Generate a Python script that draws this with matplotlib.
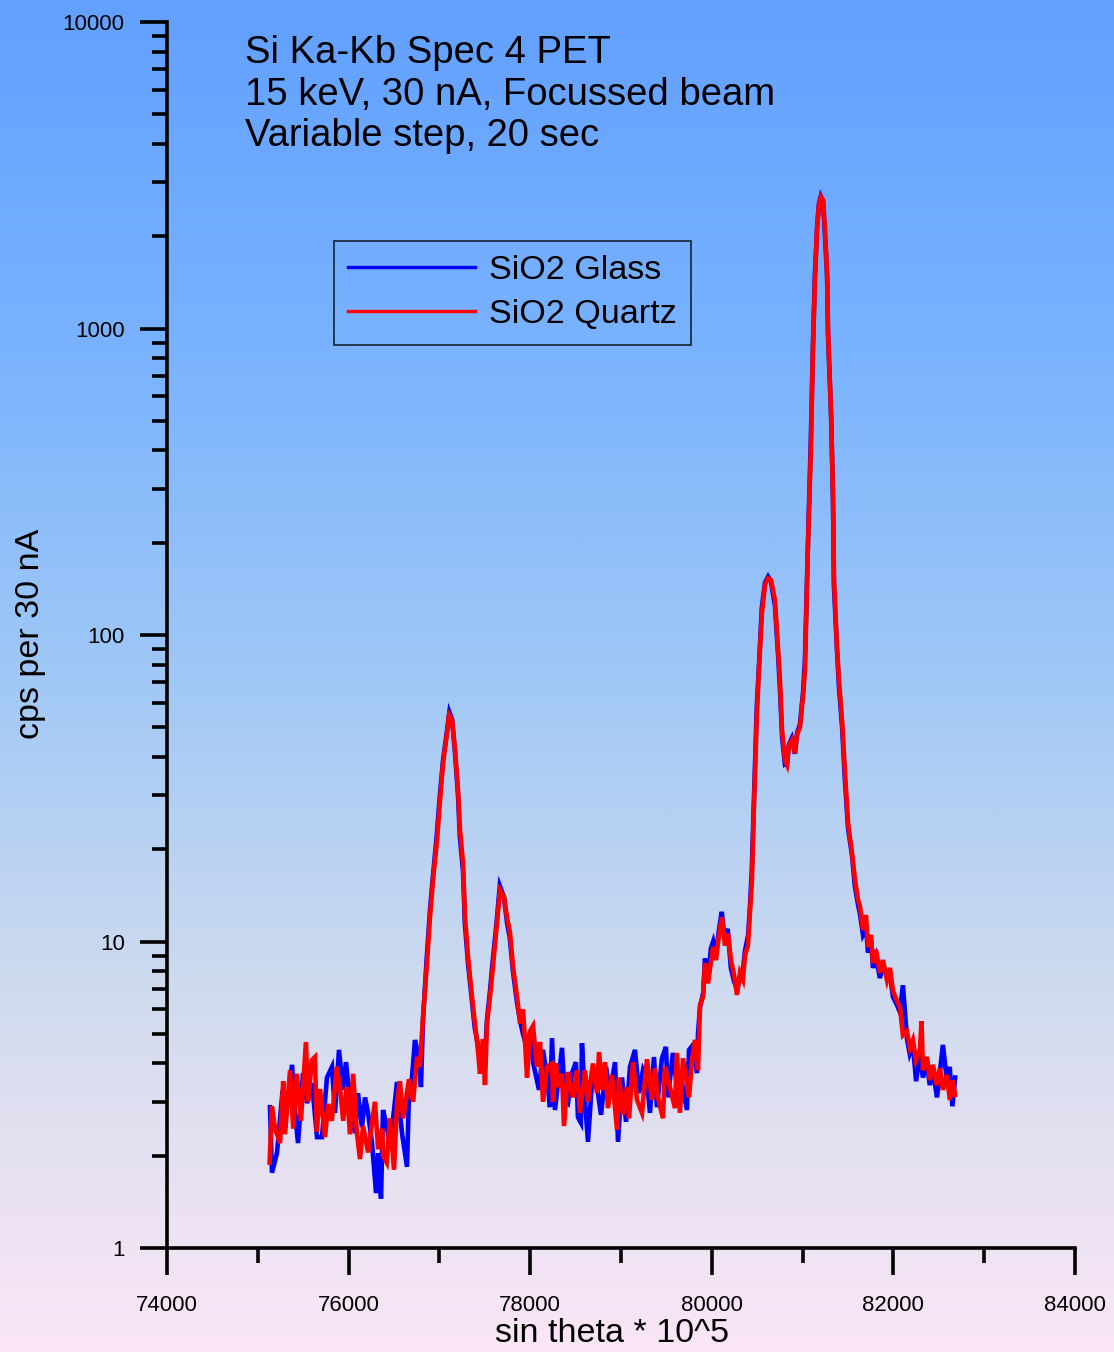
import numpy as np
import matplotlib
matplotlib.use("Agg")
import matplotlib.pyplot as plt
from matplotlib.colors import LinearSegmentedColormap
from matplotlib.ticker import LogLocator, FixedLocator, NullFormatter, FixedFormatter

plt.rcParams['font.family'] = ['Liberation Sans', 'DejaVu Sans']

# ---- spectrum data: sin(theta)*1e5 positions and count rates (cps per 30 nA) ----
glass_x = [
    75134, 75156, 75211, 75266, 75322, 75377, 75410, 75443, 75498, 75542,
    75597, 75652, 75707, 75762, 75817, 75850, 75894, 75938, 75971, 76015,
    76070, 76103, 76147, 76181, 76214, 76258, 76302, 76324, 76357, 76379,
    76423, 76456, 76533, 76588, 76643, 76665, 76698, 76731, 76764, 76797,
    76819, 76860, 76895, 76930, 76970, 77005, 77040, 77085, 77110, 77140,
    77170, 77205, 77225, 77260, 77280, 77315, 77360, 77390, 77425, 77450,
    77480, 77500, 77525, 77555, 77590, 77635, 77665, 77710, 77745, 77775,
    77810, 77855, 77890, 77920, 77945, 77965, 77998, 78031, 78097, 78141,
    78185, 78218, 78240, 78273, 78350, 78383, 78416, 78460, 78504, 78526,
    78559, 78570, 78603, 78636, 78680, 78736, 78780, 78835, 78879, 78934,
    78967, 79011, 79055, 79099, 79154, 79198, 79242, 79286, 79319, 79363,
    79396, 79451, 79495, 79517, 79572, 79616, 79671, 79726, 79749, 79793,
    79837, 79848, 79870, 79905, 79925, 79960, 79990, 80015, 80045, 80080,
    80110, 80140, 80175, 80210, 80245, 80280, 80310, 80345, 80365, 80400,
    80420, 80440, 80465, 80495, 80520, 80550, 80585, 80620, 80650, 80695,
    80730, 80750, 80775, 80805, 80830, 80850, 80880, 80915, 80940, 80970,
    81005, 81025, 81060, 81090, 81115, 81135, 81160, 81180, 81200, 81225,
    81245, 81270, 81280, 81315, 81335, 81345, 81380, 81400, 81435, 81465,
    81500, 81545, 81575, 81610, 81630, 81665, 81700, 81720, 81755, 81775,
    81810, 81850, 81885, 81930, 81960, 81995, 82040, 82070, 82105, 82150,
    82180, 82215, 82250, 82290, 82325, 82370, 82400, 82435, 82480, 82510,
    82545, 82590, 82620, 82650, 82680,
]
glass_cps = [
    2.88, 1.76, 2.04, 3.10, 2.88, 3.96, 2.76, 2.20, 3.72, 2.97,
    3.45, 2.30, 2.30, 3.60, 3.90, 2.76, 4.43, 3.28, 4.04, 3.04,
    2.37, 3.20, 2.48, 3.10, 2.76, 2.20, 1.51, 2.04, 1.45, 2.82,
    2.48, 2.13, 3.48, 2.37, 1.84, 3.20, 3.60, 4.77, 4.33, 3.35,
    5.54, 8.8, 12.5, 16.5, 22.0, 30.0, 39.0, 49.0, 56.0, 53.0,
    42.0, 30.0, 22.0, 17.0, 11.5, 8.5, 6.3, 5.2, 4.6, 4.2,
    4.4, 4.1, 5.6, 6.8, 8.8, 12.0, 15.2, 14.0, 11.5, 10.3,
    8.0, 6.3, 5.5, 5.0, 4.7, 4.4, 5.07, 4.04, 3.28, 4.43,
    3.60, 2.88, 4.84, 2.82, 4.50, 3.04, 2.97, 3.72, 4.04, 2.67,
    2.56, 4.66, 3.04, 2.22, 3.45, 3.35, 2.72, 3.90, 3.20, 4.04,
    2.22, 3.60, 2.58, 3.90, 4.43, 3.20, 3.80, 3.53, 2.76, 4.20,
    2.88, 4.16, 4.53, 3.10, 4.33, 3.35, 3.45, 2.82, 4.43, 4.60,
    3.72, 5.0, 6.1, 6.8, 8.8, 7.5, 9.5, 10.0, 9.0, 11.0,
    12.5, 10.2, 11.0, 8.2, 7.4, 7.0, 7.6, 8.2, 9.3, 10.5,
    13.0, 17.0, 30.0, 58.0, 80.0, 122, 148, 155, 150, 125,
    86, 67, 46, 38, 38.5, 44, 46, 41, 48, 51,
    65, 82, 205, 430, 900, 1480, 2150, 2560, 2700, 2600,
    2050, 1480, 950, 510, 270, 145, 88, 68, 50, 34,
    23.5, 19.0, 15.2, 13.2, 12.4, 10.5, 11.0, 9.2, 10.0, 8.2,
    8.9, 7.6, 8.3, 7.8, 7.9, 6.6, 6.2, 5.9, 7.2, 4.8,
    4.3, 4.6, 3.5, 4.3, 3.6, 4.0, 3.4, 3.8, 3.1, 3.7,
    4.6, 3.5, 3.9, 2.9, 3.6,
]

quartz_x = [
    75130, 75155, 75190, 75245, 75280, 75300, 75355, 75390, 75430, 75475,
    75530, 75555, 75595, 75630, 75650, 75685, 75740, 75775, 75815, 75870,
    75905, 75940, 75980, 76015, 76050, 76090, 76125, 76160, 76215, 76290,
    76325, 76370, 76380, 76420, 76455, 76500, 76535, 76565, 76600, 76665,
    76710, 76755, 76785, 76820, 76863, 76896, 76929, 76974, 77007, 77040,
    77084, 77106, 77139, 77172, 77205, 77227, 77260, 77282, 77315, 77359,
    77392, 77425, 77447, 77480, 77502, 77524, 77557, 77590, 77634, 77667,
    77711, 77744, 77777, 77810, 77855, 77888, 77921, 77943, 77965, 77998,
    78031, 78075, 78108, 78141, 78185, 78240, 78251, 78284, 78306, 78350,
    78372, 78416, 78471, 78515, 78548, 78603, 78636, 78691, 78736, 78758,
    78791, 78824, 78857, 78901, 78956, 78978, 79022, 79066, 79088, 79132,
    79176, 79231, 79286, 79341, 79374, 79407, 79462, 79484, 79539, 79594,
    79616, 79649, 79683, 79749, 79782, 79815, 79848, 79870, 79903, 79925,
    79958, 80013, 80046, 80079, 80112, 80145, 80178, 80211, 80244, 80277,
    80310, 80343, 80365, 80398, 80420, 80442, 80464, 80497, 80519, 80552,
    80586, 80619, 80652, 80696, 80729, 80751, 80773, 80806, 80828, 80850,
    80883, 80916, 80938, 80971, 81004, 81026, 81059, 81092, 81114, 81136,
    81158, 81180, 81202, 81225, 81247, 81269, 81280, 81313, 81335, 81346,
    81379, 81401, 81434, 81467, 81500, 81544, 81577, 81610, 81632, 81665,
    81698, 81720, 81753, 81775, 81808, 81852, 81885, 81929, 81962, 81995,
    82039, 82072, 82105, 82149, 82182, 82215, 82248, 82292, 82310, 82325,
    82369, 82402, 82435, 82479, 82512, 82545, 82589, 82622, 82655, 82678,
]
quartz_cps = [
    1.90, 2.90, 2.45, 2.20, 3.50, 2.35, 3.80, 2.45, 3.70, 2.60,
    4.70, 3.00, 4.10, 4.20, 2.40, 3.30, 2.30, 2.95, 2.60, 3.90,
    3.35, 2.60, 3.35, 2.35, 3.70, 2.40, 1.95, 2.50, 2.05, 3.00,
    2.10, 2.45, 2.00, 1.90, 2.65, 1.80, 3.00, 3.50, 2.65, 3.55,
    3.00, 4.20, 3.90, 5.70, 8.5, 12.0, 15.9, 21.4, 28.9, 38.2,
    47.9, 54.8, 52.8, 42.2, 31.2, 23.1, 18.0, 12.0, 8.9, 6.6,
    5.4, 4.4, 3.7, 4.8, 3.4, 5.4, 6.6, 8.3, 11.5, 14.7,
    14.0, 12.0, 10.7, 8.3, 6.6, 5.4, 6.0, 4.7, 3.6, 5.1,
    5.3, 3.9, 4.7, 3.0, 3.9, 4.0, 3.0, 4.0, 3.35, 3.7,
    2.5, 3.75, 3.1, 3.8, 2.76, 3.8, 3.0, 4.0, 3.2, 4.36,
    3.28, 4.04, 2.86, 3.67, 2.43, 3.6, 2.72, 3.35, 2.65, 4.04,
    3.04, 2.76, 4.13, 3.04, 3.86, 3.1, 2.65, 3.9, 3.35, 2.86,
    4.33, 2.76, 4.16, 3.1, 4.1, 4.77, 3.8, 6.2, 6.6, 8.5,
    7.3, 9.6, 8.7, 10.5, 12.0, 9.7, 10.6, 8.7, 7.8, 6.7,
    7.9, 7.5, 9.0, 9.7, 12.4, 15.9, 27.5, 55.6, 76.9, 118,
    146, 153, 151, 130, 91, 71, 49, 39, 37.7, 43.8,
    45.4, 41.2, 47.2, 50, 62.8, 76.9, 194, 411, 870, 1440,
    2095, 2530, 2685, 2625, 2095, 1518, 988, 530, 282, 151,
    91, 71, 52.8, 35.5, 24.4, 19.4, 15.9, 13.7, 13.0, 10.9,
    12.2, 9.6, 10.5, 8.5, 9.4, 7.9, 8.7, 7.5, 8.2, 6.9,
    6.4, 6.1, 4.95, 5.1, 4.5, 4.77, 4.1, 4.43, 5.5, 3.8,
    4.2, 3.53, 3.96, 3.4, 3.86, 3.28, 3.67, 3.04, 3.53, 3.16,
]

series_labels = ["SiO2 Glass", "SiO2 Quartz"]
series_colors = ["#0000ff", "#ff0000"]

x_major = [74000, 76000, 78000, 80000, 82000, 84000]
x_minor = [75000, 77000, 79000, 81000, 83000]
y_major = [1, 10, 100, 1000, 10000]
y_labels = ["1", "10", "100", "1000", "10000"]

title_lines = ["Si Ka-Kb Spec 4 PET",
               "15 keV, 30 nA, Focussed beam",
               "Variable step, 20 sec"]

W, H = 1114, 1352
fig = plt.figure(figsize=(W / 100, H / 100), dpi=100)

# vertical gradient backdrop
bg = fig.add_axes([0, 0, 1, 1], zorder=-10)
grad = LinearSegmentedColormap.from_list("bg", [
    (0.00, (98 / 255, 160 / 255, 255 / 255)),
    (0.25, (120 / 255, 178 / 255, 255 / 255)),
    (0.50, (160 / 255, 200 / 255, 246 / 255)),
    (0.75, (210 / 255, 220 / 255, 238 / 255)),
    (0.90, (236 / 255, 226 / 255, 243 / 255)),
    (1.00, (250 / 255, 230 / 255, 246 / 255)),
])
bg.imshow(np.linspace(0, 1, 512).reshape(-1, 1), aspect="auto", cmap=grad,
          extent=[0, 1, 0, 1], origin="upper")
bg.set_axis_off()

ax = fig.add_axes([167 / W, 1 - 1248 / H, (1075 - 167) / W, (1248 - 22) / H])
ax.patch.set_alpha(0)

ax.plot(glass_x, glass_cps, color=series_colors[0], lw=3.3, label=series_labels[0],
        solid_joinstyle="miter", zorder=3)
ax.plot(quartz_x, quartz_cps, color=series_colors[1], lw=3.3, label=series_labels[1],
        solid_joinstyle="miter", zorder=4)

ax.set_yscale("log")
ax.set_xlim(74000, 84000)
ax.set_ylim(1, 10000)

for s in ["top", "right"]:
    ax.spines[s].set_visible(False)
for s in ["left", "bottom"]:
    ax.spines[s].set_linewidth(2.6)
    ax.spines[s].set_color("black")

ax.xaxis.set_major_locator(FixedLocator(x_major))
ax.xaxis.set_minor_locator(FixedLocator(x_minor))
ax.xaxis.set_minor_formatter(NullFormatter())
ax.set_xticklabels([str(v) for v in x_major])

ax.yaxis.set_major_locator(FixedLocator(y_major))
ax.yaxis.set_major_formatter(FixedFormatter(y_labels))
ax.yaxis.set_minor_locator(LogLocator(base=10, subs=np.arange(2, 10), numticks=20))
ax.yaxis.set_minor_formatter(NullFormatter())

ax.tick_params(axis="both", which="major", direction="out", length=19.5, width=2.6,
               labelsize=16, color="black")
ax.tick_params(axis="both", which="minor", direction="out", length=10.5, width=2.6,
               color="black")
ax.tick_params(axis="x", which="major", pad=14)
ax.tick_params(axis="y", which="major", pad=11)

fig.text(612 / W, 1 - 1334 / H, "sin theta * 10^5", fontsize=24.5,
         ha="center", va="center")
fig.text(31 / W, 1 - 634 / H, "cps per 30 nA", fontsize=24.5,
         ha="center", va="center", rotation=90)

for i, line in enumerate(title_lines):
    fig.text(245 / W, 1 - (53 + 41.5 * i) / H, line, fontsize=27.5,
             ha="left", va="center")

leg = fig.legend(loc="upper left", bbox_to_anchor=(334 / W, 1 - 241 / H),
                 bbox_transform=fig.transFigure, fontsize=24.6, frameon=True,
                 fancybox=False, edgecolor="black", facecolor="none",
                 handlelength=3.7, handletextpad=0.42, borderaxespad=0,
                 borderpad=0.42, labelspacing=0.38)
leg.get_frame().set_linewidth(1.2)
for lh in leg.get_lines():
    lh.set_linewidth(2.4)

fig.savefig("out.png", dpi=100)
